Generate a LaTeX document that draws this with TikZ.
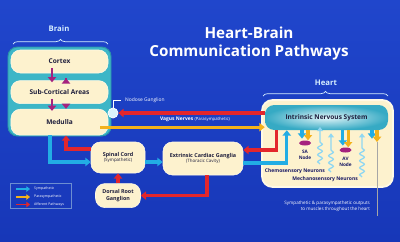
\documentclass[tikz,border=0pt]{standalone}
\usepackage{fontspec}
\setmainfont{Open Sans}
\usepackage{xcolor}
\usepackage{tikz}
\usetikzlibrary{arrows.meta, positioning, shapes.geometric, decorations.pathmorphing, decorations.pathreplacing}

\definecolor{bgtop}{HTML}{2046CC}
\definecolor{bgbot}{HTML}{1737B8}
\definecolor{cream}{HTML}{FDF2CE}
\definecolor{creamedge}{HTML}{FFF9E6}
\definecolor{brainteal}{HTML}{3DB6C7}
\definecolor{brainedge}{HTML}{2A93A8}
\definecolor{inslight}{HTML}{E2F5F8}
\definecolor{insdark}{HTML}{36AAC4}
\definecolor{sympcyan}{HTML}{22ADE4}
\definecolor{paragold}{HTML}{F3B21B}
\definecolor{affred}{HTML}{E3262C}
\definecolor{nodemag}{HTML}{A5227E}
\definecolor{wavyblue}{HTML}{8FD7F2}
\definecolor{inktext}{HTML}{1E1E3C}
\definecolor{hdrcyan}{HTML}{D6EEFF}

\begin{document}
\begin{tikzpicture}[x=0.03cm, y=-0.03cm,
  pill/.style={rectangle, rounded corners=8pt, fill=cream, draw=creamedge, line width=0.5pt, text=inktext, align=center, inner sep=1pt, minimum width=#1},
  pill/.default=2cm,
  bigtxt/.style={font=\fontsize{5.6}{6.6}\selectfont\bfseries},
  midtxt/.style={font=\fontsize{4.6}{5.8}\selectfont\bfseries},
  arr/.style={-{Triangle[length=4.5pt, width=7pt]}, line width=2.6pt},
  symp/.style={arr, draw=sympcyan},
  para/.style={arr, draw=paragold},
  aff/.style={arr, draw=affred},
  brainarr/.style={arr, draw=nodemag, line width=2pt},
  legarr/.style={line width=1.4pt, -{Triangle[length=3pt, width=4.5pt]}},
  wavy/.style={-{Triangle[length=3.5pt, width=5pt]}, line width=1.1pt, draw=wavyblue, decorate, decoration={snake, amplitude=2pt, segment length=6pt, post length=#1}},
  wavy/.default=10pt,
  lbl/.style={font=\fontsize{4.2}{5.1}\selectfont, text=white},
  darklbl/.style={font=\fontsize{4.3}{5}\selectfont\bfseries, text=inktext!80!blue},
  hdr/.style={font=\fontsize{6.6}{7.5}\selectfont\bfseries, text=hdrcyan},
  brace/.style={draw=hdrcyan, line width=0.6pt, decorate, decoration={brace, amplitude=4pt}},
  nodeell/.style={ellipse, fill=nodemag, minimum width=0.36cm, minimum height=0.15cm, inner sep=0pt},
]
  % Background
  \useasboundingbox (0,0) rectangle (400,241);
  \shade[top color=bgtop, bottom color=bgbot] (0,0) rectangle (400,241);

  % Title
  \node[font=\fontsize{13}{15.3}\selectfont\bfseries, text=white, align=center] (title) at (249,44) {Heart-Brain\\Communication Pathways};

  % Brain
  \node[hdr] (brainlbl) at (59,29) {Brain};
  \draw[brace] (13,44) -- (108,44);
  \node[rectangle, rounded corners=8pt, fill=brainteal, draw=brainedge, line width=0.8pt, minimum width=3.09cm, minimum height=2.67cm] (brain) at (59.5,91.5) {};
  \node[pill=2.91cm, minimum height=0.69cm, bigtxt] (cortex) at (59.5,61.5) {Cortex};
  \node[pill=2.91cm, minimum height=0.69cm, bigtxt, below=0.21cm of cortex] (subcort) {Sub-Cortical Areas};
  \node[pill=2.91cm, minimum height=0.78cm, bigtxt, below=0.15cm of subcort] (medulla) {Medulla};

  \draw[brainarr] ([xshift=-0.225cm, yshift=0.15cm]cortex.south) -- ([xshift=-0.225cm, yshift=-0.06cm]subcort.north);
  \draw[brainarr] ([xshift=0.195cm, yshift=0.06cm]subcort.north) -- ([xshift=0.195cm, yshift=-0.15cm]cortex.south);
  \draw[brainarr] ([xshift=-0.225cm, yshift=0.15cm]subcort.south) -- ([xshift=-0.225cm, yshift=-0.06cm]medulla.north);
  \draw[brainarr] ([xshift=0.195cm, yshift=0.06cm]medulla.north) -- ([xshift=0.195cm, yshift=-0.15cm]subcort.south);

  % Nodose ganglion
  \node[circle, fill=cyan!15, draw=white, line width=0.6pt, minimum size=0.3cm, inner sep=0pt] (nodose) at (113,113) {};
  \node[lbl, anchor=west] (nodoselbl) at (121,100) {Nodose Ganglion};
  \draw[white, line width=0.5pt] (nodose.north) |- (nodoselbl.west);

  % Spinal cord, ganglia
  \node[pill=1.62cm, minimum height=0.93cm, midtxt] (spinal) at (118,157.5) {Spinal Cord\\[-1pt]{\fontsize{3.8}{4.6}\selectfont\mdseries (Sympathetic)}};
  \node[pill=1.35cm, minimum height=0.72cm, midtxt, below=0.3cm of spinal] (dorsal) {Dorsal Root\\Ganglion};
  \node[pill=2.4cm, minimum height=0.99cm, midtxt] (extr) at (203,158.5) {Extrinsic Cardiac Ganglia\\[-1pt]{\fontsize{3.8}{4.6}\selectfont\mdseries (Thoracic Cavity)}};

  % Heart
  \node[hdr] (heartlbl) at (326,83) {Heart};
  \draw[brace] (263,96) -- (388,96);
  \node[rectangle, rounded corners=9pt, fill=cream, draw=creamedge, line width=1.5pt, minimum width=3.93cm, minimum height=2.61cm] (heart) at (327.5,143.5) {};
  \node[rectangle, rounded corners=8pt, inner color=inslight, outer color=insdark, minimum width=3.69cm, minimum height=0.75cm, text=inktext, bigtxt] (ins) at (326.5,117.5) {Intrinsic Nervous System};

  \node[nodeell] (sa) at (305,143) {};
  \node[darklbl, align=center, below=0.5pt of sa, font=\fontsize{4}{4.8}\selectfont\bfseries] (salbl) {SA\\Node};
  \node[nodeell] (av) at (345.5,150) {};
  \node[darklbl, align=center, below=0.5pt of av, font=\fontsize{4}{4.8}\selectfont\bfseries] (avlbl) {AV\\Node};
  \coordinate (musc) at (377,142);

  \node[darklbl, anchor=east] (chemlbl) at (329,171) {Chemosensory Neurons};
  \node[darklbl, anchor=east] (mechlbl) at (362,179) {Mechanosensory Neurons};
  \coordinate (chem1) at (320,164);
  \coordinate (chem2) at (331,172);
  \coordinate (mech1) at (362,177);

  % Vagus
  \node[lbl, anchor=west] (vaguslbl) at (156,119) {\textbf{Vagus Nerves} {\fontsize{3.6}{4}\selectfont(Parasympathetic)}};
  \draw[aff] (nodose -| ins.west) -- (nodose.east);
  \draw[para] ([xshift=-0.24cm, yshift=-0.15cm]medulla.east) -- ([yshift=-0.15cm]medulla.east -| ins.west);

  % Spinal pathways
  \draw[symp] ([xshift=-0.285cm]medulla.south) |- ([yshift=-0.135cm]spinal.west);
  \draw[aff] ([yshift=0.255cm]spinal.west) -| ([xshift=0.195cm]medulla.south);
  \draw[aff] (dorsal.north) -- (spinal.south);
  \draw[symp] ([yshift=-0.135cm]spinal.east) -- ([yshift=-0.135cm]spinal.east -| extr.west);
  \draw[aff] ([xshift=0.12cm]extr.south) |- (dorsal.east);
  \draw[aff] ([xshift=0.36cm]ins.south west) |- ([yshift=0.255cm]extr.east);
  \draw[symp] ([yshift=-0.135cm]extr.east) -| ([xshift=0.66cm]ins.south west);

  % Inside the heart
  \draw[symp] ([xshift=-0.09cm]sa.north |- ins.south) -- ([xshift=-0.09cm, yshift=0.05cm]sa.north);
  \draw[para] ([xshift=0.09cm]sa.north |- ins.south) -- ([xshift=0.09cm]sa.north);
  \draw[symp] ([xshift=-0.08cm]av.north |- ins.south) -- ([xshift=-0.08cm, yshift=0.05cm]av.north);
  \draw[para] ([xshift=0.08cm]av.north |- ins.south) -- ([xshift=0.08cm]av.north);
  \draw[symp] ([xshift=-0.15cm]musc |- ins.south) -- ([xshift=-0.15cm, yshift=0.1cm]musc);
  \draw[para] (musc |- ins.south) -- (musc);
  \draw[wavy=12pt] (chem1) -- ([yshift=0.1cm]chem1 |- ins.south);
  \draw[wavy=12pt] (chem2) -- ([yshift=-0.09cm]chem2 |- ins.south);
  \draw[wavy=12pt] (mech1) -- ([yshift=-0.09cm]mech1 |- ins.south);

  % Outputs to muscles
  \node[lbl, align=right, anchor=north east, font=\fontsize{3.9}{5}\selectfont] (outlbl) at (374,197) {Sympathetic \& parasympathetic outputs\\to muscles throughout the heart};
  \draw[gray!70!white, line width=0.5pt] (musc) -- (musc |- outlbl.south);

  % Legend
  \node[draw=cyan!40!blue!60!white, line width=0.5pt, minimum width=1.83cm, minimum height=0.75cm] (legend) at (40.5,195.5) {};
  \node[lbl, anchor=west, font=\fontsize{3}{3.5}\selectfont] (lgsymp) at (30,189) {Sympathetic};
  \node[lbl, anchor=west, font=\fontsize{3}{3.5}\selectfont] (lgpara) at (30,197) {Parasympathetic};
  \node[lbl, anchor=west, font=\fontsize{3}{3.5}\selectfont] (lgaff) at (30,204.5) {Afferent Pathways};
  \draw[symp, legarr] ([xshift=-0.42cm]lgsymp.west) -- (lgsymp.west);
  \draw[para, legarr] ([xshift=-0.42cm]lgpara.west) -- (lgpara.west);
  \draw[aff, legarr] ([xshift=-0.42cm]lgaff.west) -- (lgaff.west);

\end{tikzpicture}
\end{document}
